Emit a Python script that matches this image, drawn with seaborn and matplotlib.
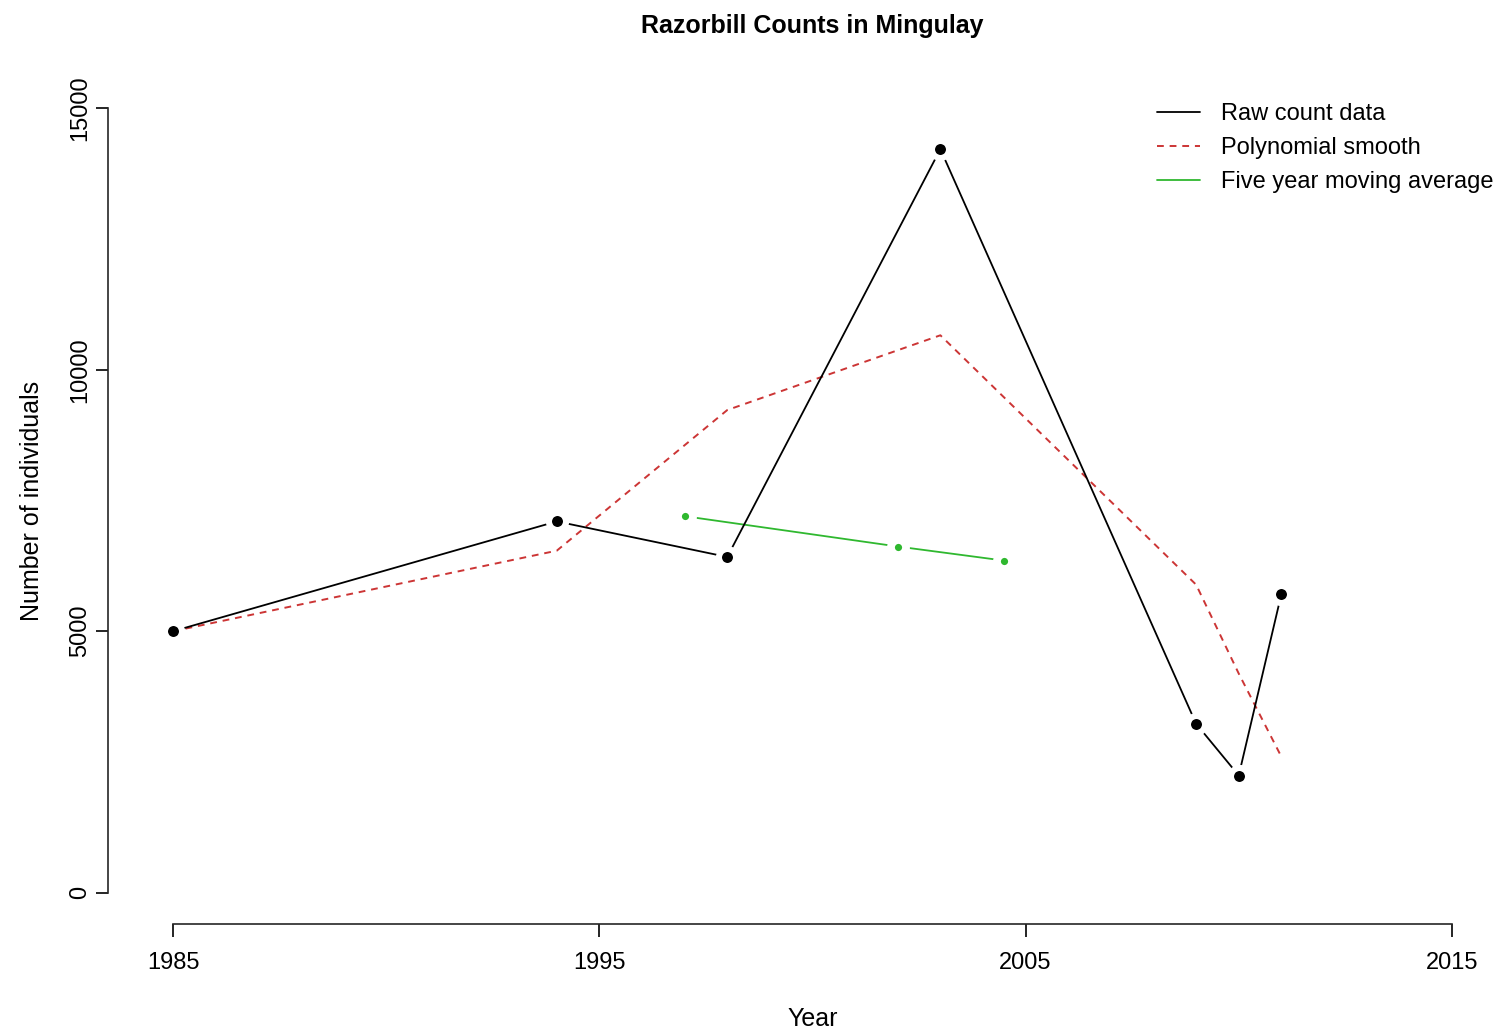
import numpy as np
import pandas as pd
import seaborn as sns
import matplotlib.pyplot as plt

# data
years = [1985, 1994, 1998, 2003, 2009, 2010, 2011]
raw_counts = [5000, 7100, 6420, 14220, 3230, 2240, 5710]
poly_smooth = [5000, 6540, 9230, 10660, 5890, 4190, 2600]
ma_years = [1997, 2002, 2004.5]
ma_values = [7200, 6620, 6350]
x_ticks = [1985, 1995, 2005, 2015]
y_ticks = [0, 5000, 10000, 15000]

sns.set_style("ticks")
plt.rcParams["font.family"] = ["Liberation Sans", "DejaVu Sans"]
plt.rcParams["text.color"] = "black"
plt.rcParams["axes.labelcolor"] = "black"
plt.rcParams["xtick.color"] = "black"
plt.rcParams["ytick.color"] = "black"

raw = pd.DataFrame({"year": years, "count": raw_counts})
smooth = pd.DataFrame({"year": years, "count": poly_smooth})
mavg = pd.DataFrame({"year": ma_years, "count": ma_values})

fig = plt.figure(figsize=(15.01, 10.33), dpi=100)
ax = fig.add_axes([122 / 1501, 109 / 1033, 1381 / 1501, 847 / 1033])

red = "#cc3535"
green = "#2fb82f"

sns.lineplot(data=smooth, x="year", y="count", color=red, lw=1.4,
             linestyle=(0, (3.5, 3)), label="Polynomial smooth", ax=ax)
sns.lineplot(data=mavg, x="year", y="count", color=green, lw=1.3,
             label="Five year moving average", ax=ax)
sns.scatterplot(data=mavg, x="year", y="count", color=green, s=118,
                edgecolor="white", linewidth=5.6, zorder=3, ax=ax)
sns.lineplot(data=raw, x="year", y="count", color="black", lw=1.3,
             label="Raw count data", ax=ax)
# white halo around the points mimics R's type="b" gaps
sns.scatterplot(data=raw, x="year", y="count", color="black", s=152,
                edgecolor="white", linewidth=4.4, zorder=4, ax=ax)

ax.set_xlim(1983.8, 2016.2)
ax.set_ylim(-600, 15600)
ax.set_xticks(x_ticks)
ax.set_yticks(y_ticks)
ax.spines["top"].set_visible(False)
ax.spines["right"].set_visible(False)
ax.spines["left"].set_position(("outward", 10))
ax.spines["bottom"].set_bounds(1985, 2015)
ax.spines["left"].set_bounds(0, 15000)
for s in ["left", "bottom"]:
    ax.spines[s].set_linewidth(1.2)
ax.tick_params(axis="both", length=9, width=1.2, labelsize=17)
ax.tick_params(axis="x", pad=11)
ax.tick_params(axis="y", labelrotation=90, pad=3)
for lab in ax.get_yticklabels():
    lab.set_va("center")

ax.set_xlabel("Year", fontsize=18, labelpad=24)
ax.set_ylabel("Number of individuals", fontsize=18, labelpad=18)
ax.set_title("Razorbill Counts in Mingulay", fontsize=18, fontweight="bold", pad=32)

handles, labels = ax.get_legend_handles_labels()
order = [labels.index(l) for l in ["Raw count data", "Polynomial smooth", "Five year moving average"]]
ax.legend([handles[i] for i in order], [labels[i] for i in order],
          loc="upper right", bbox_to_anchor=(1.0, 0.98), frameon=False,
          fontsize=17, handlelength=1.82, handletextpad=0.9,
          labelspacing=0.51, borderaxespad=0)

plt.savefig("out.png", dpi=100)
